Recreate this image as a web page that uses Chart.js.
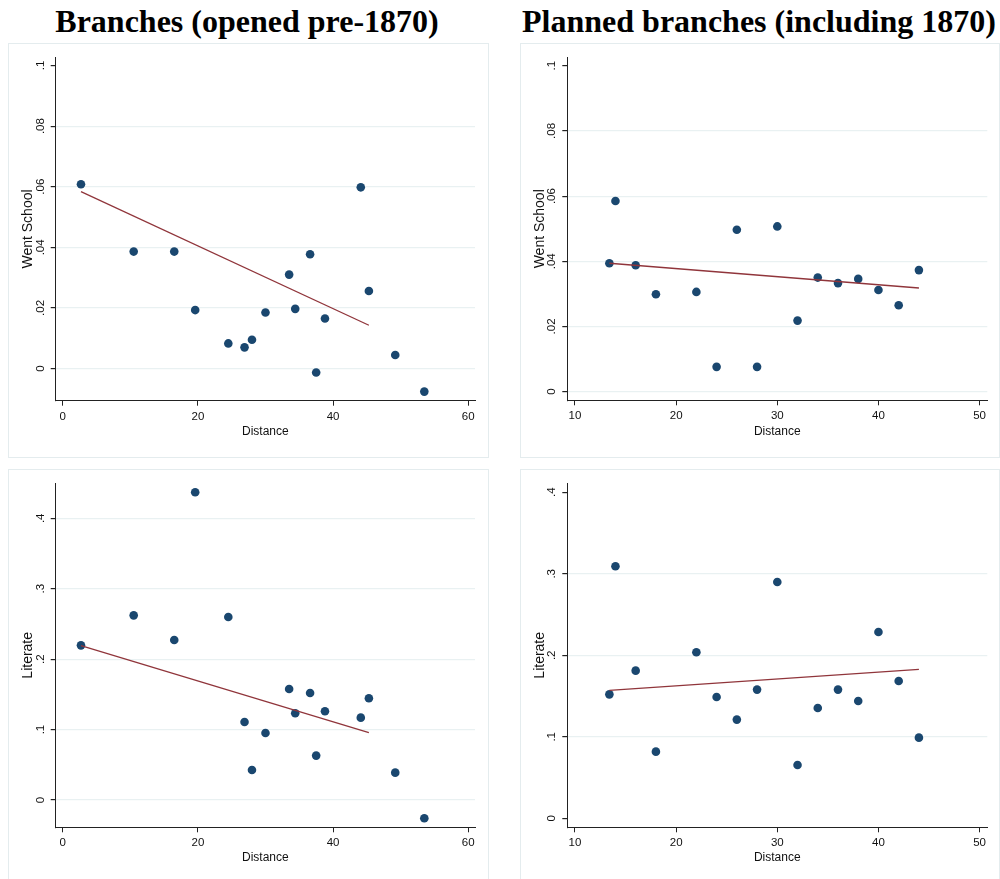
<!DOCTYPE html>
<html>
<head>
<meta charset="utf-8">
<script src="https://cdn.jsdelivr.net/npm/chart.js@4/dist/chart.umd.min.js"></script>
<style>
  html, body { margin: 0; padding: 0; background: #fff; }
  body { width: 1000px; height: 879px; position: relative; overflow: hidden; }
  .title {
    position: absolute; top: 5px; width: 520px; margin-left: -260px;
    text-align: center; white-space: nowrap;
    font-family: "Liberation Serif", "Times New Roman", serif;
    font-weight: bold; font-size: 32px; line-height: 32px; color: #000;
  }
  .box { position: absolute; box-sizing: border-box; border: 1px solid #e4ecee; }
  canvas { position: absolute; }
</style>
</head>
<body>
<div class="title" style="left:247px">Branches (opened pre-1870)</div>
<div class="title" style="left:759px">Planned branches (including 1870)</div>

<div class="box" style="left:8px;top:43px;width:481px;height:415px"></div>
<div class="box" style="left:520px;top:43px;width:480px;height:415px"></div>
<div class="box" style="left:8px;top:469px;width:481px;height:415px"></div>
<div class="box" style="left:520px;top:469px;width:480px;height:415px"></div>

<canvas id="c1" width="481" height="415" style="left:8px;top:43px"></canvas>
<canvas id="c2" width="480" height="415" style="left:520px;top:43px"></canvas>
<canvas id="c3" width="481" height="415" style="left:8px;top:469px"></canvas>
<canvas id="c4" width="480" height="415" style="left:520px;top:469px"></canvas>

<script>
// branches opened before 1870
const distPre = [2.7, 10.5, 16.5, 19.6, 24.5, 26.9, 28.0, 30.0, 33.5, 34.4, 36.6, 37.5, 38.8, 44.1, 45.3, 49.2, 53.5];
const schoolPre = [0.0608, 0.0386, 0.0386, 0.0193, 0.0083, 0.0070, 0.0095, 0.0185, 0.0310, 0.0197, 0.0377, -0.0013, 0.0165, 0.0598, 0.0256, 0.0045, -0.0076];
const literatePre = [0.2196, 0.2622, 0.2272, 0.4369, 0.2599, 0.1108, 0.0426, 0.0951, 0.1576, 0.1231, 0.1520, 0.0630, 0.1259, 0.1169, 0.1444, 0.0388, -0.0260];
const fitXPre = [2.7, 45.3];
const fitSchoolPre = [0.0584, 0.0143];
const fitLiteratePre = [0.2192, 0.0956];

// planned branches (incl. 1870)
const distPlanned = [13.4, 14, 16, 18, 22, 24, 26, 28, 30, 32, 34, 36, 38, 40, 42, 44];
const schoolPlanned = [0.0394, 0.0585, 0.0388, 0.0299, 0.0306, 0.0076, 0.0497, 0.0076, 0.0507, 0.0218, 0.0350, 0.0333, 0.0346, 0.0312, 0.0265, 0.0373];
const literatePlanned = [0.1521, 0.3092, 0.1812, 0.0818, 0.2037, 0.1489, 0.1211, 0.1579, 0.2900, 0.0654, 0.1354, 0.1579, 0.1440, 0.2286, 0.1685, 0.0990];
const fitXPlanned = [13.4, 44];
const fitSchoolPlanned = [0.0394, 0.0318];
const fitLiteratePlanned = [0.1570, 0.1828];

// ticks
const xTicksPre = [0, 20, 40, 60];
const xTicksPlanned = [10, 20, 30, 40, 50];
const yTicksSchool = [0, 0.02, 0.04, 0.06, 0.08, 0.1];
const yLabelsSchool = ['0', '.02', '.04', '.06', '.08', '.1'];
const yTicksLiterate = [0, 0.1, 0.2, 0.3, 0.4];
const yLabelsLiterate = ['0', '.1', '.2', '.3', '.4'];

Chart.defaults.font.family = "'Liberation Sans', Arial, sans-serif";
Chart.defaults.color = '#111';

const DOT = '#1a476f';
const FIT = '#90353b';
const GRID = '#e9f1f2';
const AXIS = '#222';

function pts(xs, ys) {
  return xs.map((x, i) => ({ x: x, y: ys[i] }));
}

function drawPanel(id, p) {
  const ctx = document.getElementById(id).getContext('2d');
  new Chart(ctx, {
    type: 'scatter',
    data: {
      datasets: [
        {
          data: pts(p.fitX, p.fitY),
          showLine: true,
          borderColor: FIT,
          borderWidth: 1.3,
          pointRadius: 0,
          order: 0
        },
        {
          data: pts(p.x, p.y),
          backgroundColor: DOT,
          borderWidth: 0,
          pointRadius: 4.3,
          order: 1
        }
      ]
    },
    options: {
      responsive: false,
      animation: false,
      events: [],
      layout: { padding: { left: 0, top: 14.3, right: p.padRight, bottom: 0 } },
      plugins: { legend: { display: false }, tooltip: { enabled: false } },
      scales: {
        x: {
          type: 'linear',
          min: p.xMin, max: p.xMax,
          afterBuildTicks: s => { s.ticks = p.xTicks.map(v => ({ value: v })); },
          afterFit: s => { s.height = p.xHeight; },
          grid: { drawOnChartArea: false, drawTicks: true, tickLength: 5, tickColor: AXIS },
          border: { color: AXIS, width: 1 },
          ticks: { font: { size: 11.5 }, padding: 4, maxRotation: 0, autoSkip: false },
          title: { display: true, text: 'Distance', font: { size: 12 }, padding: { top: 0, bottom: 18.8 } }
        },
        y: {
          type: 'linear',
          min: p.yMin, max: p.yMax,
          afterBuildTicks: s => { s.ticks = p.yTicks.map(v => ({ value: v })); },
          afterFit: s => { s.width = p.yWidth; },
          grid: {
            color: c => (c.tick && p.yGrid.includes(c.tick.value)) ? GRID : 'rgba(0,0,0,0)',
            lineWidth: 1.2,
            tickLength: 5,
            tickColor: AXIS
          },
          border: { color: AXIS, width: 1 },
          ticks: {
            font: { size: 11.5 },
            minRotation: 90, maxRotation: 90,
            crossAlign: 'center',
            padding: p.yPad,
            autoSkip: false,
            callback: v => p.yLabels[p.yTicks.indexOf(v)]
          },
          title: { display: true, text: p.yTitle, font: { size: 14 }, padding: { top: 11.6, bottom: 0 } }
        }
      }
    }
  });
}

drawPanel('c1', {
  x: distPre, y: schoolPre, fitX: fitXPre, fitY: fitSchoolPre,
  xMin: -1.04, xMax: 61.0, yMin: -0.0106, yMax: 0.1027,
  xTicks: xTicksPre, yTicks: yTicksSchool, yLabels: yLabelsSchool,
  yGrid: [0, 0.02, 0.04, 0.06, 0.08], yTitle: 'Went School',
  padRight: 14, xHeight: 57.3, yWidth: 47.7, yPad: 2
});
drawPanel('c2', {
  x: distPlanned, y: schoolPlanned, fitX: fitXPlanned, fitY: fitSchoolPlanned,
  xMin: 9.24, xMax: 50.76, yMin: -0.00266, yMax: 0.1026,
  xTicks: xTicksPlanned, yTicks: yTicksSchool, yLabels: yLabelsSchool,
  yGrid: [0, 0.02, 0.04, 0.06, 0.08], yTitle: 'Went School',
  padRight: 12.7, xHeight: 57.7, yWidth: 47.3, yPad: 2.2
});
drawPanel('c3', {
  x: distPre, y: literatePre, fitX: fitXPre, fitY: fitLiteratePre,
  xMin: -1.04, xMax: 61.0, yMin: -0.0388, yMax: 0.4497,
  xTicks: xTicksPre, yTicks: yTicksLiterate, yLabels: yLabelsLiterate,
  yGrid: [0, 0.1, 0.2, 0.3, 0.4], yTitle: 'Literate',
  padRight: 14, xHeight: 56.7, yWidth: 47.7, yPad: 5.1
});
drawPanel('c4', {
  x: distPlanned, y: literatePlanned, fitX: fitXPlanned, fitY: fitLiteratePlanned,
  xMin: 9.24, xMax: 50.76, yMin: -0.011, yMax: 0.411,
  xTicks: xTicksPlanned, yTicks: yTicksLiterate, yLabels: yLabelsLiterate,
  yGrid: [0.1, 0.2, 0.3], yTitle: 'Literate',
  padRight: 12.7, xHeight: 56.7, yWidth: 47.3, yPad: 5.4
});
</script>
</body>
</html>
